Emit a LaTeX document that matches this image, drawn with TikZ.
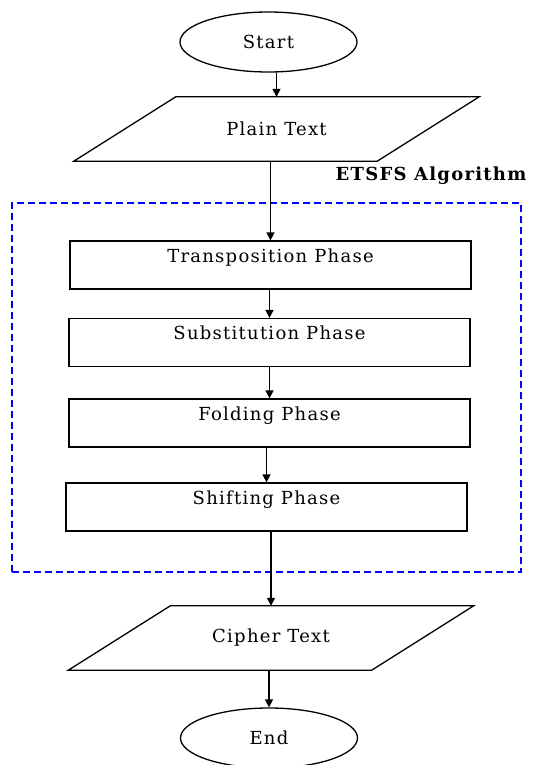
\documentclass[tikz,border=0pt]{standalone}
\usepackage{fontspec}
\setmainfont[LetterSpace=7]{DejaVu Serif}
\usetikzlibrary{shapes.geometric,arrows.meta}

\begin{document}
\begin{tikzpicture}[x=1pt, y=-1pt, >={Triangle[length=8pt,width=8pt]},
    every node/.style={font=\fontsize{18}{20}\selectfont},
    outline/.style={draw, line width=1.3pt},
    terminal/.style={outline, ellipse, minimum width=177pt, minimum height=60pt},
    io/.style={minimum width=303pt, minimum height=64pt},
    phasebox/.style={outline, rectangle, minimum width=401pt, inner ysep=0pt,
               text height=21pt, text depth=27pt},
    algoframe/.style={draw=blue, line width=1.3pt, dash pattern=on 7pt off 4pt,
               minimum width=509pt, minimum height=369pt},
    flow/.style={->, line width=1.5pt}]
  \useasboundingbox (0,0) rectangle (533,765);

  % outer frame of the algorithm
  \node[algoframe] (etsfs) at (266.5,387.5) {};
  \node[font=\fontsize{18}{20}\selectfont\bfseries] (etsfslabel) at (431,176) {ETSFS Algorithm};

  \node[terminal] (start) at (268.5,42) {Start};
  \node[io] (plain) at (276.5,129) {Plain Text};

  \foreach \name/\x/\y/\txt in {tp/270.5/265/Transposition Phase,
                                sub/269.5/342.5/Substitution Phase,
                                fold/269.5/423/Folding Phase,
                                shift/266.5/507/Shifting Phase} {
    \node[phasebox] (\name) at (\x,\y) {\txt};
  }

  \node[io] (cipher) at (271,638) {Cipher Text};
  \node[terminal] (end) at (269,738) {End};

  % slanted outlines of the input/output boxes
  \foreach \n in {plain, cipher} {
    \draw[outline] ([xshift=51pt]\n.north west) -- ([xshift=51pt]\n.north east)
      -- ([xshift=-51pt]\n.south east) -- ([xshift=-51pt]\n.south west) -- cycle;
  }

  \foreach \a/\b in {start/plain, plain/tp, tp/sub, sub/fold, fold/shift, shift/cipher, cipher/end} {
    \draw[flow] (\b.north |- \a.south) -- (\b.north);
  }
\end{tikzpicture}
\end{document}
